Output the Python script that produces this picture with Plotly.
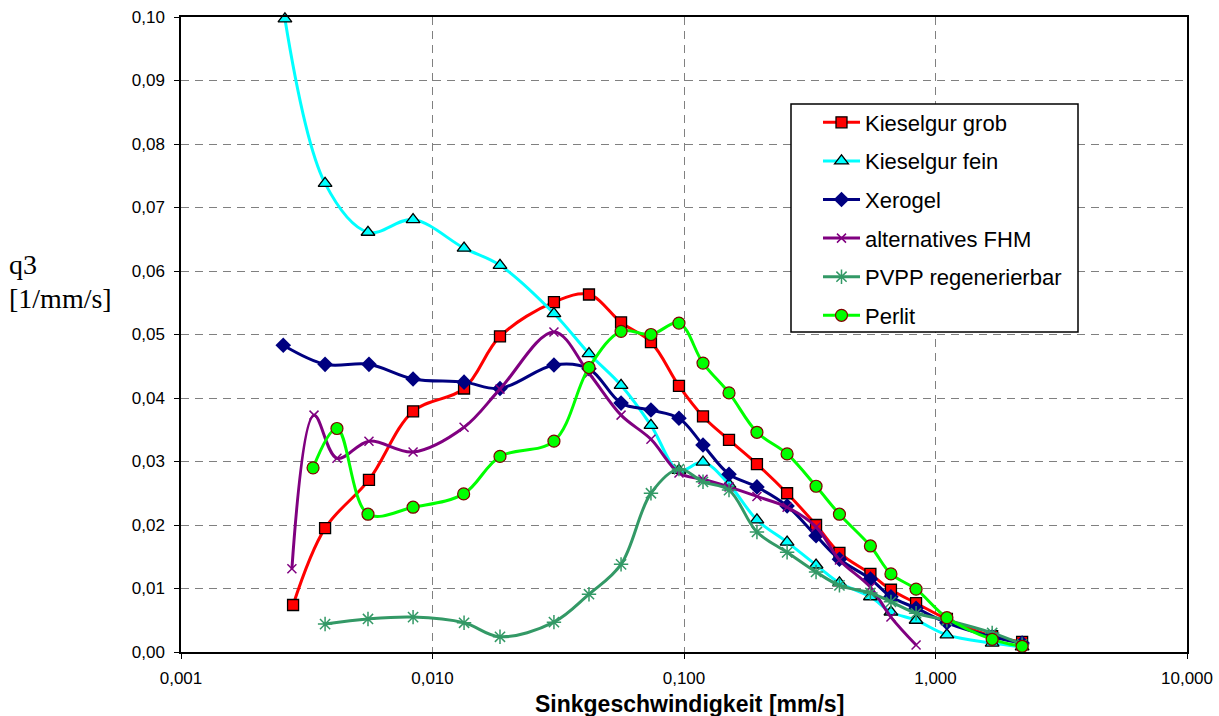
import plotly.graph_objects as go

# ---------------- data ----------------
x_grob = [0.00279, 0.00374, 0.00559, 0.00837, 0.01335, 0.01855, 0.0304, 0.0419, 0.0562, 0.0739,
          0.0955, 0.119, 0.151, 0.195, 0.257, 0.335, 0.415, 0.551, 0.665, 0.837, 1.11, 1.68, 2.21]
y_grob = [0.0074, 0.0195, 0.0271, 0.0379, 0.0415, 0.0497, 0.0551, 0.0563, 0.0519, 0.0488,
          0.0419, 0.0371, 0.0334, 0.0296, 0.0250, 0.0200, 0.0156, 0.0123, 0.0098, 0.0077, 0.0052, 0.0025, 0.0016]

x_fein = [0.00259, 0.00374, 0.00554, 0.00837, 0.01335, 0.01855, 0.0304, 0.0419, 0.0562, 0.0739,
          0.0955, 0.119, 0.151, 0.195, 0.257, 0.335, 0.415, 0.551, 0.665, 0.837, 1.11, 1.68, 2.21]
y_fein = [0.0997, 0.0738, 0.0661, 0.0681, 0.0636, 0.0609, 0.0533, 0.0470, 0.0420, 0.0357,
          0.0286, 0.0299, 0.0264, 0.0208, 0.0173, 0.0137, 0.0109, 0.0087, 0.0063, 0.0050, 0.0027, 0.0014, 0.0008]

x_xero = [0.00255, 0.00374, 0.00559, 0.00837, 0.01335, 0.01855, 0.0304, 0.0419, 0.0562, 0.0739,
          0.0955, 0.119, 0.151, 0.195, 0.257, 0.335, 0.415, 0.551, 0.665, 0.837, 1.11, 1.68, 2.21]
y_xero = [0.0483, 0.0453, 0.0453, 0.0430, 0.0425, 0.0415, 0.0452, 0.0446, 0.0392, 0.0381,
          0.0368, 0.0326, 0.0280, 0.0260, 0.0230, 0.0183, 0.0146, 0.0115, 0.0087, 0.0069, 0.0046, 0.0024, 0.0014]

x_fhm = [0.00276, 0.00338, 0.00417, 0.00559, 0.00837, 0.01335, 0.01855, 0.0304, 0.0419, 0.0562,
         0.0739, 0.0955, 0.119, 0.151, 0.195, 0.257, 0.335, 0.415, 0.551, 0.665, 0.837]
y_fhm = [0.0131, 0.0373, 0.0305, 0.0332, 0.0315, 0.0354, 0.0414, 0.0504, 0.0439, 0.0373,
         0.0335, 0.0282, 0.0272, 0.0260, 0.0245, 0.0228, 0.0197, 0.0145, 0.0102, 0.0055, 0.0011]

x_pvpp = [0.00374, 0.00554, 0.00837, 0.01335, 0.01855, 0.0304, 0.0419, 0.0562, 0.0739, 0.0955,
          0.119, 0.151, 0.195, 0.257, 0.335, 0.415, 0.551, 0.665, 0.837, 1.11, 1.68, 2.21]
y_pvpp = [0.0044, 0.0052, 0.0055, 0.0046, 0.0024, 0.0047, 0.0091, 0.0138, 0.0250, 0.0288,
          0.0268, 0.0255, 0.0189, 0.0157, 0.0126, 0.0105, 0.0093, 0.0079, 0.0061, 0.0050, 0.0030, 0.0012]

x_perl = [0.00335, 0.00417, 0.00554, 0.00837, 0.0133, 0.01855, 0.0304, 0.0419, 0.0562, 0.0739,
          0.0955, 0.119, 0.151, 0.195, 0.257, 0.335, 0.415, 0.551, 0.665, 0.837, 1.11, 1.68, 2.21]
y_perl = [0.0290, 0.0352, 0.0217, 0.0228, 0.0249, 0.0308, 0.0332, 0.0448, 0.0505, 0.0500,
          0.0518, 0.0455, 0.0408, 0.0346, 0.0312, 0.0261, 0.0217, 0.0167, 0.0123, 0.0099, 0.0054, 0.0020, 0.0009]

x_tickvals = [0.001, 0.01, 0.1, 1, 10]
x_ticktext = ["0,001", "0,010", "0,100", "1,000", "10,000"]

names = ["Kieselgur grob", "Kieselgur fein", "Xerogel", "alternatives FHM",
         "PVPP regenerierbar", "Perlit"]

# ---------------- figure ----------------
FONT = "Liberation Sans, Arial, Helvetica, sans-serif"
SERIF = "Liberation Serif, Times New Roman, serif"
fig = go.Figure()

def add(xs, ys, name, color, symbol, size, mcolor, lcolor, lwidth):
    fig.add_trace(go.Scatter(
        x=xs, y=ys, name=name, mode="lines+markers",
        line=dict(color=color, width=3, shape="spline", smoothing=1.0),
        marker=dict(symbol=symbol, size=size, color=mcolor,
                    line=dict(color=lcolor, width=lwidth)),
        cliponaxis=False, legendgroup=name,
    ))

add(x_grob, y_grob, names[0], "#FF0000", "square", 11, "#FF0000", "#000000", 1.3)
add(x_fein, y_fein, names[1], "#00FFFF", "triangle-up", 12, "#00FFFF", "#000000", 1.3)
add(x_xero, y_xero, names[2], "#000080", "diamond", 12, "#000080", "#000080", 0)
add(x_fhm, y_fhm, names[3], "#800080", "x-thin-open", 9, "#800080", "#800080", 1.5)
add(x_pvpp, y_pvpp, names[4], "#339966", "asterisk-open", 12, "#339966", "#339966", 1.5)
add(x_perl, y_perl, names[5], "#00FF00", "circle", 12, "#00FF00", "#800000", 1.2)

L, R, T, B = 181, 1187, 17, 652
W, H = 1219, 716
pw, ph = R - L, B - T

def px(xp):
    return (xp - L) / pw

def py(yp):
    return (B - yp) / ph

fig.update_layout(
    width=W, height=H, autosize=False,
    margin=dict(l=L, r=W - R, t=T, b=H - B, pad=0, autoexpand=False),
    paper_bgcolor="white", plot_bgcolor="white",
    separators=",.",
    font=dict(family=FONT, size=17, color="#000000"),
    showlegend=True,
    legend=dict(
        x=px(818), y=py(101.5), xanchor="left", yanchor="top",
        bgcolor="rgba(0,0,0,0)", borderwidth=0,
        font=dict(family=FONT, size=22, color="#000000"),
        itemwidth=37, traceorder="grouped", tracegroupgap=7,
    ),
    xaxis=dict(
        type="log", range=[-3, 1], automargin=False,
        tickvals=x_tickvals, ticktext=x_ticktext,
        showgrid=True, gridcolor="#808080", gridwidth=1, griddash="8px,6px",
        showline=True, linecolor="#000000", linewidth=1.5, mirror=True,
        ticks="outside", ticklen=5, tickcolor="#000000", tickwidth=1,
        tickfont=dict(family=FONT, size=17), ticklabelstandoff=5,
        zeroline=False,
    ),
    yaxis=dict(
        range=[0, 0.1], dtick=0.01, tick0=0, tickformat=".2f", automargin=False,
        showgrid=True, gridcolor="#808080", gridwidth=1, griddash="8px,6px",
        showline=True, linecolor="#000000", linewidth=1.5, mirror=True,
        ticks="outside", ticklen=5, tickcolor="#000000", tickwidth=1,
        tickfont=dict(family=FONT, size=17), ticklabelstandoff=6,
        zeroline=False,
    ),
    shapes=[dict(
        type="rect", xref="paper", yref="paper", layer="above",
        x0=px(791), x1=px(1078), y0=py(332), y1=py(104),
        fillcolor="white", line=dict(color="#000000", width=1.5),
    )],
    annotations=[
        dict(text="<b>Sinkgeschwindigkeit [mm/s]</b>", xref="paper", yref="paper",
             x=px(689), y=py(704), xanchor="center", yanchor="middle",
             showarrow=False, font=dict(family=FONT, size=23, color="#000000")),
        dict(text="q3", xref="paper", yref="paper",
             x=px(7), y=py(264), xanchor="left", yanchor="middle",
             showarrow=False, font=dict(family=SERIF, size=28, color="#000000")),
        dict(text="[1/mm/s]", xref="paper", yref="paper",
             x=px(7), y=py(298), xanchor="left", yanchor="middle",
             showarrow=False, font=dict(family=SERIF, size=28, color="#000000")),
    ],
)

fig.write_html("out.html")
